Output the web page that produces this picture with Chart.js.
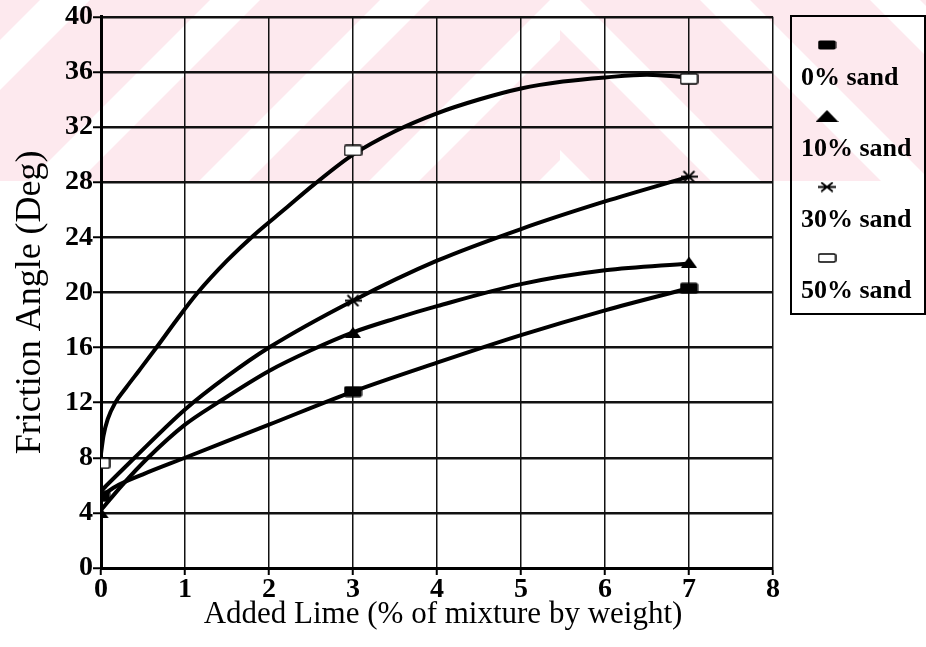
<!DOCTYPE html>
<html>
<head>
<meta charset="utf-8">
<title>Friction Angle vs Added Lime</title>
<script src="https://cdn.jsdelivr.net/npm/chart.js@4.4.1/dist/chart.umd.min.js"></script>
<style>
  html, body { margin: 0; padding: 0; background: #fff; }
  #wrap { width: 926px; height: 647px; }
</style>
</head>
<body>
<div id="wrap"><canvas id="chart" width="926" height="647"></canvas></div>
<script>
// ---- data ----
const limeTicks = [0, 1, 2, 3, 4, 5, 6, 7, 8];
const angleTicks = [0, 4, 8, 12, 16, 20, 24, 28, 32, 36, 40];
const seriesNames = ['0% sand', '10% sand', '30% sand', '50% sand'];
const xTitle = 'Added Lime (% of mixture by weight)';
const yTitle = 'Friction Angle (Deg)';

// measured friction angles (deg) at 0, 3 and 7 % lime
const limeTested = [0, 3, 7];
const phiSand0 = [5.2, 12.8, 20.3];
const phiSand10 = [4.0, 17.1, 22.2];
const phiSand30 = [5.5, 19.4, 28.4];
const phiSand50 = [7.6, 30.3, 35.5];

// smoothed trend curves
const trendLime0 = [0, 0.17, 0.5, 1, 2, 3, 4, 5, 6, 7];
const trendPhi0 = [5.2, 5.9, 6.8, 8.0, 10.4, 12.8, 14.9, 16.9, 18.7, 20.3];
const trendLime10 = [0, 0.25, 0.56, 1, 1.39, 2, 2.5, 3, 3.5, 4, 5, 6, 7];
const trendPhi10 = [4.2, 6.0, 8.0, 10.4, 12.0, 14.3, 15.8, 17.1, 18.1, 19.0, 20.6, 21.6, 22.1];
const trendLime30 = [0, 0.2, 0.4, 1, 1.5, 2, 3, 4, 5, 6, 7];
const trendPhi30 = [5.6, 6.8, 8.0, 11.5, 13.9, 16.0, 19.4, 22.3, 24.6, 26.6, 28.4];
const trendLime50 = [0, 0.03, 0.08, 0.17, 0.3, 0.45, 0.66, 0.9, 1.14, 1.5, 1.81, 2.2, 2.53, 3, 3.5, 4, 4.5, 5, 5.5, 6, 6.5, 7];
const trendPhi50 = [8.3, 9.6, 10.8, 12.0, 13.1, 14.3, 16.0, 18.0, 19.9, 22.3, 24.1, 26.1, 27.8, 30.0, 31.7, 33.0, 34.0, 34.8, 35.3, 35.6, 35.8, 35.6];

// ---- marker glyphs ----
function glyph(kind, w, h) {
  const c = document.createElement('canvas');
  c.width = w; c.height = h;
  const g = c.getContext('2d');
  g.fillStyle = '#000'; g.strokeStyle = '#000';
  if (kind === 'solid') {
    g.beginPath();
    g.roundRect(0.5, 0.5, w - 1, h - 1, 2);
    g.fill();
  } else if (kind === 'hollow') {
    g.fillStyle = '#fff';
    g.lineWidth = 1.5;
    g.beginPath();
    g.roundRect(1, 1, w - 2, h - 2, 1.5);
    g.fill(); g.stroke();
  } else if (kind === 'triangle') {
    g.beginPath();
    g.moveTo(w / 2, 0); g.lineTo(w, h); g.lineTo(0, h); g.closePath();
    g.fill();
  } else if (kind === 'star') {
    g.lineWidth = 1.8;
    g.beginPath();
    g.moveTo(0, h / 2); g.lineTo(w, h / 2);
    g.moveTo(w * 0.18, 1); g.lineTo(w * 0.82, h - 1);
    g.moveTo(w * 0.82, 1); g.lineTo(w * 0.18, h - 1);
    g.stroke();
  }
  return c;
}
const plotMarks = [glyph('solid', 19, 12), glyph('triangle', 16, 11), glyph('star', 17, 13), glyph('hollow', 19, 12)];
const keyMarks = [glyph('solid', 19, 10), glyph('triangle', 23, 12), glyph('star', 18, 11), glyph('hollow', 19, 10)];

const measured = [phiSand0, phiSand10, phiSand30, phiSand50];
const trendX = [trendLime0, trendLime10, trendLime30, trendLime50];
const trendY = [trendPhi0, trendPhi10, trendPhi30, trendPhi50];

const pts = (xs, ys) => xs.map((x, i) => ({ x: x, y: ys[i] }));

const datasets = [];
// markers first so they sit above the curves
seriesNames.forEach((name, i) => {
  datasets.push({
    label: name,
    data: pts(limeTested, measured[i]),
    showLine: false,
    pointStyle: plotMarks[i],
    pointRadius: 8,
    pointHoverRadius: 8
  });
});
seriesNames.forEach((name, i) => {
  datasets.push({
    label: name + ' trend',
    data: pts(trendX[i], trendY[i]),
    showLine: true,
    borderColor: '#000',
    borderWidth: 4,
    pointRadius: 0,
    pointHoverRadius: 0,
    cubicInterpolationMode: 'monotone',
    fill: false
  });
});

// faint pink band behind the top of the figure
const bandPlugin = {
  id: 'band',
  beforeDraw(chart) {
    const ctx = chart.ctx;
    const bandH = 181;
    ctx.save();
    ctx.fillStyle = '#fff';
    ctx.fillRect(0, 0, chart.width, chart.height);
    ctx.beginPath();
    ctx.rect(0, 0, chart.width, bandH);
    ctx.clip();
    ctx.fillStyle = '#fde9ee';
    ctx.fillRect(0, 0, chart.width, bandH);
    ctx.fillStyle = '#fff';
    const period = 170, stripe = 50, split = 560;
    for (let k = -2; k < 8; k++) {
      const s = k * period + 40;
      ctx.save();
      ctx.beginPath(); ctx.rect(0, 0, split, bandH); ctx.clip();
      ctx.beginPath();
      ctx.moveTo(s, 0); ctx.lineTo(s + stripe, 0);
      ctx.lineTo(s + stripe - bandH, bandH); ctx.lineTo(s - bandH, bandH);
      ctx.closePath(); ctx.fill();
      ctx.restore();
      ctx.save();
      ctx.beginPath(); ctx.rect(split, 0, chart.width - split, bandH); ctx.clip();
      const t = split + k * period - 30;
      ctx.beginPath();
      ctx.moveTo(t, 0); ctx.lineTo(t + stripe, 0);
      ctx.lineTo(t + stripe + bandH, bandH); ctx.lineTo(t + bandH, bandH);
      ctx.closePath(); ctx.fill();
      ctx.restore();
    }
    ctx.restore();
  }
};

// axis titles and the boxed key (marker above each label)
const textPlugin = {
  id: 'texts',
  afterDraw(chart) {
    const ctx = chart.ctx;
    const area = chart.chartArea;
    const serif = '"Liberation Serif", "Times New Roman", serif';
    ctx.save();
    ctx.fillStyle = '#000';
    // x title
    ctx.font = '31px ' + serif;
    ctx.textAlign = 'center';
    ctx.textBaseline = 'alphabetic';
    ctx.fillText(xTitle, (area.left + area.right) / 2 + 6, 623);
    // y title
    ctx.save();
    ctx.translate(40, (area.top + area.bottom) / 2 + 10);
    ctx.rotate(-Math.PI / 2);
    ctx.font = '36px ' + serif;
    ctx.fillText(yTitle, 0, 0);
    ctx.restore();
    // key
    const left = 791, top = 16, right = 925, bottom = 314;
    ctx.strokeStyle = '#000';
    ctx.lineWidth = 2;
    ctx.strokeRect(left, top, right - left, bottom - top);
    ctx.font = 'bold 26px ' + serif;
    ctx.textAlign = 'left';
    const step = 71;
    seriesNames.forEach((name, i) => {
      const m = keyMarks[i];
      const cy = 45 + i * step;
      ctx.drawImage(m, 827 - m.width / 2, cy - m.height / 2);
      ctx.fillText(name, 801, 85 + i * step);
    });
    ctx.restore();
  }
};

const tickFont = { family: '"Liberation Serif", "Times New Roman", serif', size: 28, weight: 'bold' };

new Chart(document.getElementById('chart'), {
  type: 'scatter',
  data: { datasets: datasets },
  plugins: [bandPlugin, textPlugin],
  options: {
    responsive: false,
    animation: false,
    devicePixelRatio: 1,
    layout: { padding: { left: 0, right: 153, top: 15, bottom: 0 } },
    plugins: { legend: { display: false }, tooltip: { enabled: false } },
    scales: {
      x: {
        type: 'linear',
        min: limeTicks[0],
        max: limeTicks[limeTicks.length - 1],
        afterBuildTicks(scale) { scale.ticks = limeTicks.map(v => ({ value: v })); },
        afterFit(scale) { scale.height = 79; },
        ticks: { color: '#000', font: tickFont, padding: -2, maxRotation: 0 },
        grid: { color: '#111', lineWidth: 1.5, tickLength: 7, tickColor: '#000', tickWidth: 2 },
        border: { display: true, color: '#000', width: 3 },
        title: { display: false, text: xTitle }
      },
      y: {
        type: 'linear',
        min: angleTicks[0],
        max: angleTicks[angleTicks.length - 1],
        afterBuildTicks(scale) { scale.ticks = angleTicks.map(v => ({ value: v })); },
        afterFit(scale) { scale.width = 101; },
        ticks: { color: '#000', font: tickFont, padding: 0 },
        grid: { color: '#111', lineWidth: 2.5, tickLength: 8, tickColor: '#000', tickWidth: 2 },
        border: { display: true, color: '#000', width: 3 },
        title: { display: false, text: yTitle }
      }
    }
  }
});
</script>
</body>
</html>
